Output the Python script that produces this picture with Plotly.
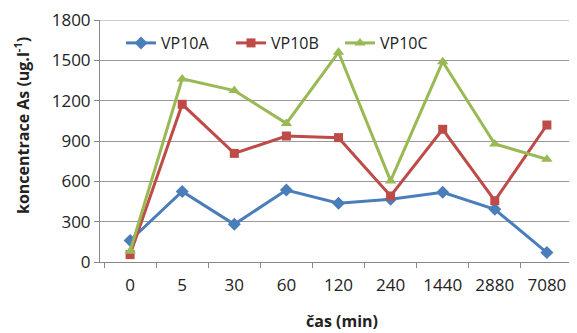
import plotly.graph_objects as go

categories = ["0", "5", "30", "60", "120", "240", "1440", "2880", "7080"]
vp10a = [160, 525, 280, 535, 437, 466, 518, 392, 70]
vp10b = [55, 1173, 808, 937, 925, 491, 987, 456, 1019]
vp10c = [80, 1362, 1275, 1031, 1560, 603, 1490, 878, 764]
y_ticks = [0, 300, 600, 900, 1200, 1500, 1800]

FONT = "Open Sans"
OFF = 8  # page body margin
W, H = 577 - OFF, 333 - OFF
L, R, T, B = 100 - OFF, 0, 20 - OFF, 333 - 262
pw, ph = W - L - R, H - T - B


def px_x(x):
    return (x - OFF - L) / pw


def px_y(y):
    return (H - B - (y - OFF)) / ph


fig = go.Figure()
fig.add_trace(go.Scatter(x=categories, y=vp10a, name="VP10A", mode="lines+markers",
                         line=dict(color="#4A7EBB", width=3),
                         marker=dict(symbol="diamond", size=10, color="#4A7EBB"),
                         legend="legend"))
fig.add_trace(go.Scatter(x=categories, y=vp10b, name="VP10B", mode="lines+markers",
                         line=dict(color="#BE4B48", width=3),
                         marker=dict(symbol="square", size=9, color="#BE4B48"),
                         legend="legend2"))
fig.add_trace(go.Scatter(x=categories, y=vp10c, name="VP10C", mode="lines+markers",
                         line=dict(color="#98B954", width=3),
                         marker=dict(symbol="triangle-up", size=10, color="#98B954"),
                         legend="legend3"))

leg_common = dict(orientation="h", yanchor="middle", xanchor="left",
                  bgcolor="rgba(0,0,0,0)", font=dict(size=16, family=FONT, color="#222"))

fig.update_layout(
    width=W, height=H,
    margin=dict(l=L, r=R, t=T, b=B),
    paper_bgcolor="white", plot_bgcolor="white",
    font=dict(family=FONT, size=17, color="#222"),
    showlegend=True,
    legend=dict(x=px_x(121), y=px_y(43), **leg_common),
    legend2=dict(x=px_x(231), y=px_y(43), **leg_common),
    legend3=dict(x=px_x(340), y=px_y(43), **leg_common),
    xaxis=dict(type="category", tickson="boundaries", ticks="outside", ticklen=5,
               tickcolor="#888", showline=True, linecolor="#888", linewidth=1,
               showgrid=False, tickfont=dict(size=17), automargin=False,
               ticklabelstandoff=8),
    yaxis=dict(range=[0, 1800], tickvals=y_ticks, ticks="outside", ticklen=5,
               tickcolor="#888", showline=True, linecolor="#888", linewidth=1,
               showgrid=True, gridcolor="#999", gridwidth=1, zeroline=False,
               tickfont=dict(size=17), automargin=False, ticklabeloverflow="allow"),
    shapes=[dict(type="line", xref="paper", yref="y", x0=0, x1=1, y0=y_ticks[-1], y1=y_ticks[-1],
                 line=dict(color="#999", width=1), layer="below")],
    annotations=[
        dict(text="<b>koncentrace As (ug.l<sup>-1</sup>)</b>", xref="paper", yref="paper",
             x=px_x(22), y=px_y(126), textangle=-90, showarrow=False,
             xanchor="center", yanchor="middle", font=dict(size=16, family=FONT, color="#222")),
        dict(text="<b>čas (min)</b>", xref="paper", yref="paper",
             x=px_x(342), y=px_y(321), showarrow=False,
             xanchor="center", yanchor="middle", font=dict(size=16, family=FONT, color="#222")),
    ],
)

fig.write_html("out.html")
